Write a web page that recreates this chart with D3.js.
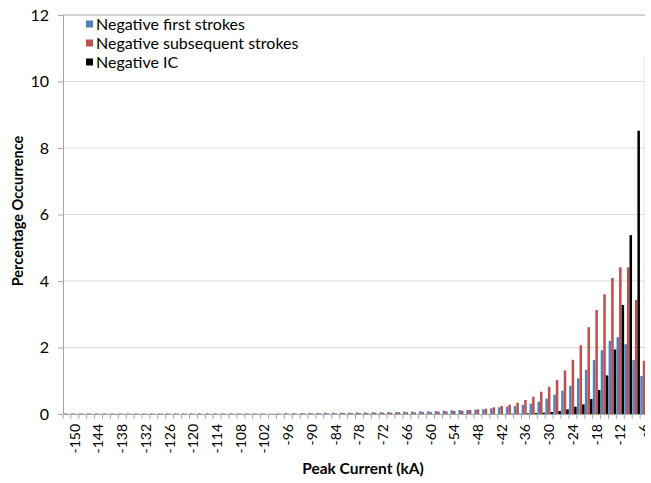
<!DOCTYPE html>
<html>
<head>
<meta charset="utf-8">
<script src="https://cdn.jsdelivr.net/npm/d3@7"></script>
<style>
    body { margin: 0; background: #fff; }
    text { font-family: Lato, "Open Sans", sans-serif; fill: #000; }
</style>
</head>
<body>
<svg id="chart" width="651" height="483"></svg>
<script>
// categories, kA (bins of 2 kA)
const categories = d3.range(-152, -4, 2);

// tick labels shown on the axis (every 3rd bin)
const tickLabels = [-150, -144, -138, -132, -126, -120, -114, -108, -102, -96, -90,
    -84, -78, -72, -66, -60, -54, -48, -42, -36, -30, -24, -18, -12, -6];

const seriesNames = ["Negative first strokes", "Negative subsequent strokes", "Negative IC"];
const seriesColors = ["#4F81BD", "#C0504D", "#000000"];

// percentage occurrence, from -152 to -6 kA
const firstStrokes = [
    0.02, 0.02, 0.02, 0.02, 0.02, 0.02, 0.02, 0.02, 0.02, 0.02,
    0.02, 0.02, 0.02, 0.02, 0.02, 0.02, 0.02, 0.02, 0.02, 0.02,
    0.02, 0.02, 0.02, 0.02, 0.02, 0.02, 0.01, 0.02, 0.03, 0.03,
    0.03, 0.03, 0.03, 0.04, 0.04, 0.04, 0.04, 0.05, 0.05, 0.05,
    0.05, 0.06, 0.06, 0.07, 0.07, 0.08, 0.08, 0.09, 0.10, 0.11,
    0.12, 0.12, 0.13, 0.14, 0.17, 0.20, 0.22, 0.24, 0.27, 0.31,
    0.37, 0.46, 0.58, 0.70, 0.85, 1.07, 1.33, 1.62, 1.92, 2.20,
    2.31, 2.10, 1.62, 1.14];
const subsequentStrokes = [
    0.01, 0.01, 0.01, 0.01, 0.01, 0.01, 0.01, 0.01, 0.01, 0.01,
    0.01, 0.01, 0.01, 0.01, 0.01, 0.01, 0.01, 0.01, 0.01, 0.01,
    0.01, 0.01, 0.01, 0.01, 0.01, 0.01, 0.01, 0.01, 0.01, 0.01,
    0.02, 0.02, 0.02, 0.02, 0.02, 0.03, 0.03, 0.03, 0.03, 0.04,
    0.04, 0.04, 0.05, 0.05, 0.05, 0.06, 0.06, 0.07, 0.08, 0.09,
    0.10, 0.12, 0.14, 0.16, 0.20, 0.24, 0.28, 0.34, 0.42, 0.52,
    0.67, 0.82, 1.02, 1.31, 1.63, 2.07, 2.61, 3.13, 3.60, 4.09,
    4.41, 4.41, 3.43, 1.60];
const negativeIC = [
    0, 0, 0, 0, 0, 0, 0, 0, 0, 0,
    0, 0, 0, 0, 0, 0, 0, 0, 0, 0,
    0, 0, 0, 0, 0, 0, 0, 0, 0, 0,
    0, 0, 0, 0, 0, 0, 0, 0, 0, 0,
    0, 0, 0, 0, 0, 0, 0, 0, 0, 0,
    0, 0, 0, 0, 0, 0, 0.01, 0.01, 0.02, 0.03,
    0.04, 0.06, 0.09, 0.14, 0.22, 0.29, 0.45, 0.72, 1.16, 1.94,
    3.28, 5.38, 8.52, 5.00];

const yTicks = [0, 2, 4, 6, 8, 10, 12];

const series = [firstStrokes, subsequentStrokes, negativeIC];

const svg = d3.select("#chart");
const plot = { left: 63, top: 15, bottom: 414, right: 648 };

const x = d3.scaleBand()
    .domain(categories)
    .range([plot.left, plot.right])
    .paddingInner(0.04)
    .paddingOuter(0.02);

const xs = d3.scaleBand()
    .domain(d3.range(series.length))
    .range([0, x.bandwidth()]);

const y = d3.scaleLinear()
    .domain([0, 12])
    .range([plot.bottom, plot.top]);

// the picture is cut on the right
svg.append("defs").append("clipPath").attr("id", "cut")
    .append("rect").attr("x", 0).attr("y", 0).attr("width", 645).attr("height", 483);

const g = svg.append("g").attr("clip-path", "url(#cut)");

// gridlines
g.append("g")
    .selectAll("line")
    .data(yTicks.slice(1))
    .join("line")
    .attr("x1", plot.left)
    .attr("x2", 650)
    .attr("y1", d => y(d))
    .attr("y2", d => y(d))
    .attr("stroke", d => d === 12 ? "#a6a6a6" : "#d9d9d9")
    .attr("stroke-width", 1.2);

g.append("line")
    .attr("x1", 644).attr("x2", 644)
    .attr("y1", 57).attr("y2", plot.bottom)
    .attr("stroke", "#e4e4e4");

// bars
series.forEach((vals, s) => {
    g.append("g")
        .attr("fill", seriesColors[s])
        .selectAll("rect")
        .data(categories)
        .join("rect")
        .attr("x", (c, i) => x(c) + xs(s))
        .attr("width", xs.bandwidth())
        .attr("y", (c, i) => y(vals[i]))
        .attr("height", (c, i) => y(0) - y(vals[i]));
});

// y axis
const yAxis = svg.append("g")
    .attr("transform", `translate(${plot.left},0)`)
    .call(d3.axisLeft(y).tickValues(yTicks).tickSize(5).tickPadding(9));
yAxis.select(".domain").attr("stroke", "#a6a6a6");
yAxis.selectAll(".tick line").attr("stroke", "#a6a6a6");
yAxis.selectAll(".tick text")
    .style("font-size", "16px")
    .style("font-family", "Lato, 'Open Sans', sans-serif");

// x axis
const xAxis = g.append("g")
    .attr("transform", `translate(0,${plot.bottom})`)
    .call(d3.axisBottom(x).tickSize(0).tickFormat(""));
xAxis.select(".domain").attr("stroke", "#a6a6a6");

g.append("g")
    .selectAll("line")
    .data(categories.concat([null]))
    .join("line")
    .attr("x1", (c, i) => plot.left + i * x.step())
    .attr("x2", (c, i) => plot.left + i * x.step())
    .attr("y1", plot.bottom)
    .attr("y2", plot.bottom + 5)
    .attr("stroke", "#a6a6a6");

g.append("g")
    .selectAll("text")
    .data(tickLabels)
    .join("text")
    .attr("transform", d => `translate(${x(d) + x.bandwidth() / 2},${plot.bottom + 10}) rotate(-90)`)
    .attr("text-anchor", "end")
    .attr("dy", "0.35em")
    .style("font-size", "14px")
    .text(d => d);

// axis titles
svg.append("text")
    .attr("x", 363)
    .attr("y", 474)
    .attr("text-anchor", "middle")
    .style("font-size", "15.5px")
    .style("font-weight", "bold")
    .text("Peak Current (kA)");

svg.append("text")
    .attr("transform", "translate(23,211) rotate(-90)")
    .attr("text-anchor", "middle")
    .style("font-size", "14.5px")
    .style("font-weight", "bold")
    .text("Percentage Occurrence");

// legend
const legend = svg.append("g")
    .selectAll("g")
    .data(seriesNames)
    .join("g")
    .attr("transform", (d, i) => `translate(86,${24 + i * 19})`);

legend.append("rect")
    .attr("x", 0)
    .attr("y", -3.5)
    .attr("width", 7)
    .attr("height", 7)
    .attr("fill", (d, i) => seriesColors[i]);

legend.append("text")
    .attr("x", 10)
    .attr("dy", "0.35em")
    .style("font-size", "16px")
    .text(d => d);
</script>
</body>
</html>
